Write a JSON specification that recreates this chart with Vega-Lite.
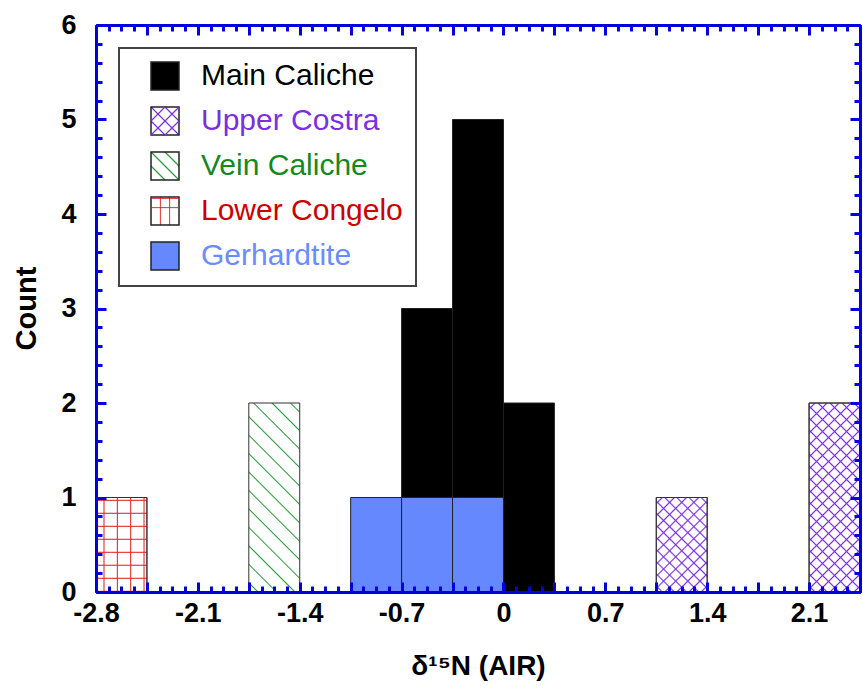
{
  "$schema": "https://vega.github.io/schema/vega-lite/v6.json",
  "width": 764,
  "height": 567,
  "autosize": "none",
  "padding": {"left": 96, "top": 25, "right": 3, "bottom": 98},
  "background": "#ffffff",
  "config": {
    "view": {"stroke": null},
    "axis": {"labelFont": "Liberation Sans", "titleFont": "Liberation Sans", "grid": false}
  },
  "data": {
    "values": [
      {"series": "Main Caliche", "lo": -0.7, "hi": -0.35, "count": 3},
      {"series": "Main Caliche", "lo": -0.35, "hi": 0, "count": 5},
      {"series": "Main Caliche", "lo": 0, "hi": 0.35, "count": 2},
      {"series": "Upper Costra", "lo": 1.05, "hi": 1.4, "count": 1},
      {"series": "Upper Costra", "lo": 2.1, "hi": 2.45, "count": 2},
      {"series": "Vein Caliche", "lo": -1.75, "hi": -1.4, "count": 2},
      {"series": "Lower Congelo", "lo": -2.8, "hi": -2.45, "count": 1},
      {"series": "Gerhardtite", "lo": -1.05, "hi": -0.7, "count": 1},
      {"series": "Gerhardtite", "lo": -0.7, "hi": -0.35, "count": 1},
      {"series": "Gerhardtite", "lo": -0.35, "hi": 0, "count": 1}
    ]
  },
  "resolve": {"axis": {"x": "independent", "y": "independent"}},
  "layer": [
    {
      "transform": [{"filter": "datum.series === 'Main Caliche'"}],
      "mark": {"type": "bar", "color": "#000000", "stroke": "#222222", "strokeWidth": 1},
      "encoding": {
        "x": {"field": "lo", "type": "quantitative", "scale": {"domain": [-2.8, 2.45], "nice": false, "zero": false},
          "axis": {"orient": "bottom", "values": [-2.8, -2.1, -1.4, -0.7, 0, 0.7, 1.4, 2.1], "ticks": false, "domain": false, "labelFlush": false, "labelOverlap": false,
            "labelExpr": "datum.value < -0.001 ? '-' + format(-datum.value, '.1f') : (datum.value < 0.001 ? '0' : format(datum.value, '.1f'))",
            "labelFontSize": 27, "labelFontWeight": "bold", "labelColor": "#000000", "labelPadding": 8,
            "title": "δ¹⁵N (AIR)", "titleFontSize": 28, "titleFontWeight": "bold", "titleColor": "#000000", "titleY": 82, "titleBaseline": "alphabetic"}},
        "x2": {"field": "hi"},
        "y": {"field": "count", "type": "quantitative", "scale": {"domain": [0, 6], "nice": false},
          "axis": {"orient": "left", "values": [0, 1, 2, 3, 4, 5, 6], "format": "d", "ticks": false, "domain": false,
            "labelFontSize": 27, "labelFontWeight": "bold", "labelColor": "#000000", "labelPadding": 20,
            "title": "Count", "titleFontSize": 29, "titleFontWeight": "bold", "titleColor": "#000000", "titleX": -61, "titleY": 283, "titleBaseline": "alphabetic"}},
        "y2": {"datum": 0}
      }
    },
    {
      "transform": [{"filter": "datum.series === 'Gerhardtite'"}],
      "mark": {"type": "bar", "color": "#6688ff", "stroke": "#222222", "strokeWidth": 1},
      "encoding": {
        "x": {"field": "lo", "type": "quantitative", "scale": {"domain": [-2.8, 2.45], "nice": false, "zero": false}, "axis": null},
        "x2": {"field": "hi"},
        "y": {"field": "count", "type": "quantitative", "scale": {"domain": [0, 6], "nice": false}, "axis": null},
        "y2": {"datum": 0}
      }
    },
    {
      "transform": [{"filter": "datum.series === 'Vein Caliche'"}],
      "mark": {"type": "bar", "stroke": "#333333", "strokeWidth": 1,
        "fill": {"gradient": "linear", "x1": 0, "y1": 1, "x2": 0.3187, "y2": -0.1835, "stops": [
          {"offset": 0, "color": "#ffffff"},
          {"offset": 0.0325, "color": "#ffffff"}, {"offset": 0.0385, "color": "#2a9a3a"}, {"offset": 0.0445, "color": "#ffffff"},
          {"offset": 0.1094, "color": "#ffffff"}, {"offset": 0.1154, "color": "#2a9a3a"}, {"offset": 0.1214, "color": "#ffffff"},
          {"offset": 0.1863, "color": "#ffffff"}, {"offset": 0.1923, "color": "#2a9a3a"}, {"offset": 0.1983, "color": "#ffffff"},
          {"offset": 0.2632, "color": "#ffffff"}, {"offset": 0.2692, "color": "#2a9a3a"}, {"offset": 0.2752, "color": "#ffffff"},
          {"offset": 0.3402, "color": "#ffffff"}, {"offset": 0.3462, "color": "#2a9a3a"}, {"offset": 0.3522, "color": "#ffffff"},
          {"offset": 0.4171, "color": "#ffffff"}, {"offset": 0.4231, "color": "#2a9a3a"}, {"offset": 0.4291, "color": "#ffffff"},
          {"offset": 0.494, "color": "#ffffff"}, {"offset": 0.5, "color": "#2a9a3a"}, {"offset": 0.506, "color": "#ffffff"},
          {"offset": 0.5709, "color": "#ffffff"}, {"offset": 0.5769, "color": "#2a9a3a"}, {"offset": 0.5829, "color": "#ffffff"},
          {"offset": 0.6478, "color": "#ffffff"}, {"offset": 0.6538, "color": "#2a9a3a"}, {"offset": 0.6598, "color": "#ffffff"},
          {"offset": 0.7248, "color": "#ffffff"}, {"offset": 0.7308, "color": "#2a9a3a"}, {"offset": 0.7368, "color": "#ffffff"},
          {"offset": 0.8017, "color": "#ffffff"}, {"offset": 0.8077, "color": "#2a9a3a"}, {"offset": 0.8137, "color": "#ffffff"},
          {"offset": 0.8786, "color": "#ffffff"}, {"offset": 0.8846, "color": "#2a9a3a"}, {"offset": 0.8906, "color": "#ffffff"},
          {"offset": 0.9555, "color": "#ffffff"}, {"offset": 0.9615, "color": "#2a9a3a"}, {"offset": 0.9675, "color": "#ffffff"},
          {"offset": 1, "color": "#ffffff"}]}},
      "encoding": {
        "x": {"field": "lo", "type": "quantitative", "scale": {"domain": [-2.8, 2.45], "nice": false, "zero": false},
          "axis": {"orient": "bottom", "values": [-2.8, -2.45, -2.1, -1.75, -1.4, -1.05, -0.7, -0.35, 0, 0.35, 0.7, 1.05, 1.4, 1.75, 2.1, 2.45],
            "labels": false, "title": null, "tickSize": -10, "tickWidth": 3, "tickColor": "#0000dd", "domain": true, "domainColor": "#0000dd", "domainWidth": 3, "zindex": 2}},
        "x2": {"field": "hi"},
        "y": {"field": "count", "type": "quantitative", "scale": {"domain": [0, 6], "nice": false},
          "axis": {"orient": "left", "values": [0, 1, 2, 3, 4, 5, 6], "labels": false, "title": null, "tickSize": -10, "tickWidth": 3, "tickColor": "#0000dd", "domain": true, "domainColor": "#0000dd", "domainWidth": 3, "zindex": 2}},
        "y2": {"datum": 0}
      }
    },
    {
      "transform": [{"filter": "datum.series === 'Lower Congelo'"}],
      "mark": {"type": "bar", "stroke": "#333333", "strokeWidth": 1,
        "fill": {"gradient": "linear", "x1": 0, "y1": 0, "x2": 1, "y2": 0, "stops": [
          {"offset": 0, "color": "#ffffff"},
          {"offset": 0.137, "color": "#ffffff"}, {"offset": 0.157, "color": "#e02020"}, {"offset": 0.177, "color": "#ffffff"},
          {"offset": 0.399, "color": "#ffffff"}, {"offset": 0.419, "color": "#e02020"}, {"offset": 0.439, "color": "#ffffff"},
          {"offset": 0.661, "color": "#ffffff"}, {"offset": 0.681, "color": "#e02020"}, {"offset": 0.701, "color": "#ffffff"},
          {"offset": 0.923, "color": "#ffffff"}, {"offset": 0.943, "color": "#e02020"}, {"offset": 0.963, "color": "#ffffff"},
          {"offset": 1, "color": "#ffffff"}]}},
      "encoding": {
        "x": {"field": "lo", "type": "quantitative", "scale": {"domain": [-2.8, 2.45], "nice": false, "zero": false},
          "axis": {"orient": "bottom", "values": [-2.8, -2.7125, -2.625, -2.5375, -2.45, -2.3625, -2.275, -2.1875, -2.1, -2.0125, -1.925, -1.8375, -1.75, -1.6625, -1.575, -1.4875, -1.4, -1.3125, -1.225, -1.1375, -1.05, -0.9625, -0.875, -0.7875, -0.7, -0.6125, -0.525, -0.4375, -0.35, -0.2625, -0.175, -0.0875, 0, 0.0875, 0.175, 0.2625, 0.35, 0.4375, 0.525, 0.6125, 0.7, 0.7875, 0.875, 0.9625, 1.05, 1.1375, 1.225, 1.3125, 1.4, 1.4875, 1.575, 1.6625, 1.75, 1.8375, 1.925, 2.0125, 2.1, 2.1875, 2.275, 2.3625, 2.45],
            "labels": false, "title": null, "tickSize": -6, "tickWidth": 3, "tickColor": "#0000dd", "domain": false, "zindex": 2}},
        "x2": {"field": "hi"},
        "y": {"field": "count", "type": "quantitative", "scale": {"domain": [0, 6], "nice": false},
          "axis": {"orient": "left", "values": [0, 0.2, 0.4, 0.6, 0.8, 1, 1.2, 1.4, 1.6, 1.8, 2, 2.2, 2.4, 2.6, 2.8, 3, 3.2, 3.4, 3.6, 3.8, 4, 4.2, 4.4, 4.6, 4.8, 5, 5.2, 5.4, 5.6, 5.8, 6],
            "labels": false, "title": null, "tickSize": -6, "tickWidth": 3, "tickColor": "#0000dd", "domain": false, "zindex": 2}},
        "y2": {"datum": 0}
      }
    },
    {
      "transform": [{"filter": "datum.series === 'Lower Congelo'"}],
      "mark": {"type": "bar", "stroke": "#333333", "strokeWidth": 1,
        "fill": {"gradient": "linear", "x1": 0, "y1": 0, "x2": 0, "y2": 1, "stops": [
          {"offset": 0, "color": "rgba(224,32,32,0)"},
          {"offset": 0.019, "color": "rgba(224,32,32,0)"}, {"offset": 0.03, "color": "#e02020"}, {"offset": 0.041, "color": "rgba(224,32,32,0)"},
          {"offset": 0.156, "color": "rgba(224,32,32,0)"}, {"offset": 0.167, "color": "#e02020"}, {"offset": 0.178, "color": "rgba(224,32,32,0)"},
          {"offset": 0.294, "color": "rgba(224,32,32,0)"}, {"offset": 0.305, "color": "#e02020"}, {"offset": 0.316, "color": "rgba(224,32,32,0)"},
          {"offset": 0.431, "color": "rgba(224,32,32,0)"}, {"offset": 0.442, "color": "#e02020"}, {"offset": 0.453, "color": "rgba(224,32,32,0)"},
          {"offset": 0.569, "color": "rgba(224,32,32,0)"}, {"offset": 0.58, "color": "#e02020"}, {"offset": 0.591, "color": "rgba(224,32,32,0)"},
          {"offset": 0.706, "color": "rgba(224,32,32,0)"}, {"offset": 0.717, "color": "#e02020"}, {"offset": 0.728, "color": "rgba(224,32,32,0)"},
          {"offset": 0.844, "color": "rgba(224,32,32,0)"}, {"offset": 0.855, "color": "#e02020"}, {"offset": 0.866, "color": "rgba(224,32,32,0)"},
          {"offset": 0.982, "color": "rgba(224,32,32,0)"}, {"offset": 0.993, "color": "#e02020"}, {"offset": 1, "color": "rgba(224,32,32,0)"}]}},
      "encoding": {
        "x": {"field": "lo", "type": "quantitative", "scale": {"domain": [-2.8, 2.45], "nice": false, "zero": false},
          "axis": {"orient": "top", "values": [-2.8, -2.45, -2.1, -1.75, -1.4, -1.05, -0.7, -0.35, 0, 0.35, 0.7, 1.05, 1.4, 1.75, 2.1, 2.45],
            "labels": false, "title": null, "tickSize": -10, "tickWidth": 3, "tickColor": "#0000dd", "domain": true, "domainColor": "#0000dd", "domainWidth": 3, "zindex": 2}},
        "x2": {"field": "hi"},
        "y": {"field": "count", "type": "quantitative", "scale": {"domain": [0, 6], "nice": false},
          "axis": {"orient": "right", "values": [0, 1, 2, 3, 4, 5, 6], "labels": false, "title": null, "tickSize": -10, "tickWidth": 3, "tickColor": "#0000dd", "domain": true, "domainColor": "#0000dd", "domainWidth": 3, "zindex": 2}},
        "y2": {"datum": 0}
      }
    },
    {
      "transform": [{"filter": "datum.series === 'Upper Costra' && datum.count === 1"}],
      "mark": {"type": "bar", "stroke": "#333333", "strokeWidth": 1,
        "fill": {"gradient": "linear", "x1": 0, "y1": 1, "x2": 0.6423, "y2": -0.1926, "stops": [
          {"offset": 0, "color": "#ffffff"},
          {"offset": 0.0307, "color": "#ffffff"}, {"offset": 0.0417, "color": "#7a30e0"}, {"offset": 0.0527, "color": "#ffffff"},
          {"offset": 0.114, "color": "#ffffff"}, {"offset": 0.125, "color": "#7a30e0"}, {"offset": 0.136, "color": "#ffffff"},
          {"offset": 0.1973, "color": "#ffffff"}, {"offset": 0.2083, "color": "#7a30e0"}, {"offset": 0.2193, "color": "#ffffff"},
          {"offset": 0.2807, "color": "#ffffff"}, {"offset": 0.2917, "color": "#7a30e0"}, {"offset": 0.3027, "color": "#ffffff"},
          {"offset": 0.364, "color": "#ffffff"}, {"offset": 0.375, "color": "#7a30e0"}, {"offset": 0.386, "color": "#ffffff"},
          {"offset": 0.4473, "color": "#ffffff"}, {"offset": 0.4583, "color": "#7a30e0"}, {"offset": 0.4693, "color": "#ffffff"},
          {"offset": 0.5307, "color": "#ffffff"}, {"offset": 0.5417, "color": "#7a30e0"}, {"offset": 0.5527, "color": "#ffffff"},
          {"offset": 0.614, "color": "#ffffff"}, {"offset": 0.625, "color": "#7a30e0"}, {"offset": 0.636, "color": "#ffffff"},
          {"offset": 0.6973, "color": "#ffffff"}, {"offset": 0.7083, "color": "#7a30e0"}, {"offset": 0.7193, "color": "#ffffff"},
          {"offset": 0.7807, "color": "#ffffff"}, {"offset": 0.7917, "color": "#7a30e0"}, {"offset": 0.8027, "color": "#ffffff"},
          {"offset": 0.864, "color": "#ffffff"}, {"offset": 0.875, "color": "#7a30e0"}, {"offset": 0.886, "color": "#ffffff"},
          {"offset": 0.9473, "color": "#ffffff"}, {"offset": 0.9583, "color": "#7a30e0"}, {"offset": 0.9693, "color": "#ffffff"},
          {"offset": 1, "color": "#ffffff"}]}},
      "encoding": {
        "x": {"field": "lo", "type": "quantitative", "scale": {"domain": [-2.8, 2.45], "nice": false, "zero": false},
          "axis": {"orient": "top", "values": [-2.8, -2.7125, -2.625, -2.5375, -2.45, -2.3625, -2.275, -2.1875, -2.1, -2.0125, -1.925, -1.8375, -1.75, -1.6625, -1.575, -1.4875, -1.4, -1.3125, -1.225, -1.1375, -1.05, -0.9625, -0.875, -0.7875, -0.7, -0.6125, -0.525, -0.4375, -0.35, -0.2625, -0.175, -0.0875, 0, 0.0875, 0.175, 0.2625, 0.35, 0.4375, 0.525, 0.6125, 0.7, 0.7875, 0.875, 0.9625, 1.05, 1.1375, 1.225, 1.3125, 1.4, 1.4875, 1.575, 1.6625, 1.75, 1.8375, 1.925, 2.0125, 2.1, 2.1875, 2.275, 2.3625, 2.45],
            "labels": false, "title": null, "tickSize": -6, "tickWidth": 3, "tickColor": "#0000dd", "domain": false, "zindex": 2}},
        "x2": {"field": "hi"},
        "y": {"field": "count", "type": "quantitative", "scale": {"domain": [0, 6], "nice": false},
          "axis": {"orient": "right", "values": [0, 0.2, 0.4, 0.6, 0.8, 1, 1.2, 1.4, 1.6, 1.8, 2, 2.2, 2.4, 2.6, 2.8, 3, 3.2, 3.4, 3.6, 3.8, 4, 4.2, 4.4, 4.6, 4.8, 5, 5.2, 5.4, 5.6, 5.8, 6],
            "labels": false, "title": null, "tickSize": -6, "tickWidth": 3, "tickColor": "#0000dd", "domain": false, "zindex": 2}},
        "y2": {"datum": 0}
      }
    },
    {
      "transform": [{"filter": "datum.series === 'Upper Costra' && datum.count === 1"}],
      "mark": {"type": "bar", "stroke": "#333333", "strokeWidth": 1,
        "fill": {"gradient": "linear", "x1": 0, "y1": 0, "x2": 0.6423, "y2": 1.1926, "stops": [
          {"offset": 0, "color": "rgba(122,48,224,0)"},
          {"offset": 0.0307, "color": "rgba(122,48,224,0)"}, {"offset": 0.0417, "color": "#7a30e0"}, {"offset": 0.0527, "color": "rgba(122,48,224,0)"},
          {"offset": 0.114, "color": "rgba(122,48,224,0)"}, {"offset": 0.125, "color": "#7a30e0"}, {"offset": 0.136, "color": "rgba(122,48,224,0)"},
          {"offset": 0.1973, "color": "rgba(122,48,224,0)"}, {"offset": 0.2083, "color": "#7a30e0"}, {"offset": 0.2193, "color": "rgba(122,48,224,0)"},
          {"offset": 0.2807, "color": "rgba(122,48,224,0)"}, {"offset": 0.2917, "color": "#7a30e0"}, {"offset": 0.3027, "color": "rgba(122,48,224,0)"},
          {"offset": 0.364, "color": "rgba(122,48,224,0)"}, {"offset": 0.375, "color": "#7a30e0"}, {"offset": 0.386, "color": "rgba(122,48,224,0)"},
          {"offset": 0.4473, "color": "rgba(122,48,224,0)"}, {"offset": 0.4583, "color": "#7a30e0"}, {"offset": 0.4693, "color": "rgba(122,48,224,0)"},
          {"offset": 0.5307, "color": "rgba(122,48,224,0)"}, {"offset": 0.5417, "color": "#7a30e0"}, {"offset": 0.5527, "color": "rgba(122,48,224,0)"},
          {"offset": 0.614, "color": "rgba(122,48,224,0)"}, {"offset": 0.625, "color": "#7a30e0"}, {"offset": 0.636, "color": "rgba(122,48,224,0)"},
          {"offset": 0.6973, "color": "rgba(122,48,224,0)"}, {"offset": 0.7083, "color": "#7a30e0"}, {"offset": 0.7193, "color": "rgba(122,48,224,0)"},
          {"offset": 0.7807, "color": "rgba(122,48,224,0)"}, {"offset": 0.7917, "color": "#7a30e0"}, {"offset": 0.8027, "color": "rgba(122,48,224,0)"},
          {"offset": 0.864, "color": "rgba(122,48,224,0)"}, {"offset": 0.875, "color": "#7a30e0"}, {"offset": 0.886, "color": "rgba(122,48,224,0)"},
          {"offset": 0.9473, "color": "rgba(122,48,224,0)"}, {"offset": 0.9583, "color": "#7a30e0"}, {"offset": 0.9693, "color": "rgba(122,48,224,0)"},
          {"offset": 1, "color": "rgba(122,48,224,0)"}]}},
      "encoding": {
        "x": {"field": "lo", "type": "quantitative", "scale": {"domain": [-2.8, 2.45], "nice": false, "zero": false}, "axis": null},
        "x2": {"field": "hi"},
        "y": {"field": "count", "type": "quantitative", "scale": {"domain": [0, 6], "nice": false}, "axis": null},
        "y2": {"datum": 0}
      }
    },
    {
      "transform": [{"filter": "datum.series === 'Upper Costra' && datum.count === 2"}],
      "mark": {"type": "bar", "stroke": "#333333", "strokeWidth": 1,
        "fill": {"gradient": "linear", "x1": 0, "y1": 1, "x2": 0.3187, "y2": -0.1835, "stops": [
          {"offset": 0, "color": "#ffffff"},
          {"offset": 0.0185, "color": "#ffffff"}, {"offset": 0.025, "color": "#7a30e0"}, {"offset": 0.0315, "color": "#ffffff"},
          {"offset": 0.0685, "color": "#ffffff"}, {"offset": 0.075, "color": "#7a30e0"}, {"offset": 0.0815, "color": "#ffffff"},
          {"offset": 0.1185, "color": "#ffffff"}, {"offset": 0.125, "color": "#7a30e0"}, {"offset": 0.1315, "color": "#ffffff"},
          {"offset": 0.1685, "color": "#ffffff"}, {"offset": 0.175, "color": "#7a30e0"}, {"offset": 0.1815, "color": "#ffffff"},
          {"offset": 0.2185, "color": "#ffffff"}, {"offset": 0.225, "color": "#7a30e0"}, {"offset": 0.2315, "color": "#ffffff"},
          {"offset": 0.2685, "color": "#ffffff"}, {"offset": 0.275, "color": "#7a30e0"}, {"offset": 0.2815, "color": "#ffffff"},
          {"offset": 0.3185, "color": "#ffffff"}, {"offset": 0.325, "color": "#7a30e0"}, {"offset": 0.3315, "color": "#ffffff"},
          {"offset": 0.3685, "color": "#ffffff"}, {"offset": 0.375, "color": "#7a30e0"}, {"offset": 0.3815, "color": "#ffffff"},
          {"offset": 0.4185, "color": "#ffffff"}, {"offset": 0.425, "color": "#7a30e0"}, {"offset": 0.4315, "color": "#ffffff"},
          {"offset": 0.4685, "color": "#ffffff"}, {"offset": 0.475, "color": "#7a30e0"}, {"offset": 0.4815, "color": "#ffffff"},
          {"offset": 0.5185, "color": "#ffffff"}, {"offset": 0.525, "color": "#7a30e0"}, {"offset": 0.5315, "color": "#ffffff"},
          {"offset": 0.5685, "color": "#ffffff"}, {"offset": 0.575, "color": "#7a30e0"}, {"offset": 0.5815, "color": "#ffffff"},
          {"offset": 0.6185, "color": "#ffffff"}, {"offset": 0.625, "color": "#7a30e0"}, {"offset": 0.6315, "color": "#ffffff"},
          {"offset": 0.6685, "color": "#ffffff"}, {"offset": 0.675, "color": "#7a30e0"}, {"offset": 0.6815, "color": "#ffffff"},
          {"offset": 0.7185, "color": "#ffffff"}, {"offset": 0.725, "color": "#7a30e0"}, {"offset": 0.7315, "color": "#ffffff"},
          {"offset": 0.7685, "color": "#ffffff"}, {"offset": 0.775, "color": "#7a30e0"}, {"offset": 0.7815, "color": "#ffffff"},
          {"offset": 0.8185, "color": "#ffffff"}, {"offset": 0.825, "color": "#7a30e0"}, {"offset": 0.8315, "color": "#ffffff"},
          {"offset": 0.8685, "color": "#ffffff"}, {"offset": 0.875, "color": "#7a30e0"}, {"offset": 0.8815, "color": "#ffffff"},
          {"offset": 0.9185, "color": "#ffffff"}, {"offset": 0.925, "color": "#7a30e0"}, {"offset": 0.9315, "color": "#ffffff"},
          {"offset": 0.9685, "color": "#ffffff"}, {"offset": 0.975, "color": "#7a30e0"}, {"offset": 0.9815, "color": "#ffffff"},
          {"offset": 1, "color": "#ffffff"}]}},
      "encoding": {
        "x": {"field": "lo", "type": "quantitative", "scale": {"domain": [-2.8, 2.45], "nice": false, "zero": false}, "axis": null},
        "x2": {"field": "hi"},
        "y": {"field": "count", "type": "quantitative", "scale": {"domain": [0, 6], "nice": false}, "axis": null},
        "y2": {"datum": 0}
      }
    },
    {
      "transform": [{"filter": "datum.series === 'Upper Costra' && datum.count === 2"}],
      "mark": {"type": "bar", "stroke": "#333333", "strokeWidth": 1,
        "fill": {"gradient": "linear", "x1": 0, "y1": 0, "x2": 0.3187, "y2": 1.1835, "stops": [
          {"offset": 0, "color": "rgba(122,48,224,0)"},
          {"offset": 0.0185, "color": "rgba(122,48,224,0)"}, {"offset": 0.025, "color": "#7a30e0"}, {"offset": 0.0315, "color": "rgba(122,48,224,0)"},
          {"offset": 0.0685, "color": "rgba(122,48,224,0)"}, {"offset": 0.075, "color": "#7a30e0"}, {"offset": 0.0815, "color": "rgba(122,48,224,0)"},
          {"offset": 0.1185, "color": "rgba(122,48,224,0)"}, {"offset": 0.125, "color": "#7a30e0"}, {"offset": 0.1315, "color": "rgba(122,48,224,0)"},
          {"offset": 0.1685, "color": "rgba(122,48,224,0)"}, {"offset": 0.175, "color": "#7a30e0"}, {"offset": 0.1815, "color": "rgba(122,48,224,0)"},
          {"offset": 0.2185, "color": "rgba(122,48,224,0)"}, {"offset": 0.225, "color": "#7a30e0"}, {"offset": 0.2315, "color": "rgba(122,48,224,0)"},
          {"offset": 0.2685, "color": "rgba(122,48,224,0)"}, {"offset": 0.275, "color": "#7a30e0"}, {"offset": 0.2815, "color": "rgba(122,48,224,0)"},
          {"offset": 0.3185, "color": "rgba(122,48,224,0)"}, {"offset": 0.325, "color": "#7a30e0"}, {"offset": 0.3315, "color": "rgba(122,48,224,0)"},
          {"offset": 0.3685, "color": "rgba(122,48,224,0)"}, {"offset": 0.375, "color": "#7a30e0"}, {"offset": 0.3815, "color": "rgba(122,48,224,0)"},
          {"offset": 0.4185, "color": "rgba(122,48,224,0)"}, {"offset": 0.425, "color": "#7a30e0"}, {"offset": 0.4315, "color": "rgba(122,48,224,0)"},
          {"offset": 0.4685, "color": "rgba(122,48,224,0)"}, {"offset": 0.475, "color": "#7a30e0"}, {"offset": 0.4815, "color": "rgba(122,48,224,0)"},
          {"offset": 0.5185, "color": "rgba(122,48,224,0)"}, {"offset": 0.525, "color": "#7a30e0"}, {"offset": 0.5315, "color": "rgba(122,48,224,0)"},
          {"offset": 0.5685, "color": "rgba(122,48,224,0)"}, {"offset": 0.575, "color": "#7a30e0"}, {"offset": 0.5815, "color": "rgba(122,48,224,0)"},
          {"offset": 0.6185, "color": "rgba(122,48,224,0)"}, {"offset": 0.625, "color": "#7a30e0"}, {"offset": 0.6315, "color": "rgba(122,48,224,0)"},
          {"offset": 0.6685, "color": "rgba(122,48,224,0)"}, {"offset": 0.675, "color": "#7a30e0"}, {"offset": 0.6815, "color": "rgba(122,48,224,0)"},
          {"offset": 0.7185, "color": "rgba(122,48,224,0)"}, {"offset": 0.725, "color": "#7a30e0"}, {"offset": 0.7315, "color": "rgba(122,48,224,0)"},
          {"offset": 0.7685, "color": "rgba(122,48,224,0)"}, {"offset": 0.775, "color": "#7a30e0"}, {"offset": 0.7815, "color": "rgba(122,48,224,0)"},
          {"offset": 0.8185, "color": "rgba(122,48,224,0)"}, {"offset": 0.825, "color": "#7a30e0"}, {"offset": 0.8315, "color": "rgba(122,48,224,0)"},
          {"offset": 0.8685, "color": "rgba(122,48,224,0)"}, {"offset": 0.875, "color": "#7a30e0"}, {"offset": 0.8815, "color": "rgba(122,48,224,0)"},
          {"offset": 0.9185, "color": "rgba(122,48,224,0)"}, {"offset": 0.925, "color": "#7a30e0"}, {"offset": 0.9315, "color": "rgba(122,48,224,0)"},
          {"offset": 0.9685, "color": "rgba(122,48,224,0)"}, {"offset": 0.975, "color": "#7a30e0"}, {"offset": 0.9815, "color": "rgba(122,48,224,0)"},
          {"offset": 1, "color": "rgba(122,48,224,0)"}]}},
      "encoding": {
        "x": {"field": "lo", "type": "quantitative", "scale": {"domain": [-2.8, 2.45], "nice": false, "zero": false}, "axis": null},
        "x2": {"field": "hi"},
        "y": {"field": "count", "type": "quantitative", "scale": {"domain": [0, 6], "nice": false}, "axis": null},
        "y2": {"datum": 0}
      }
    },
    {
      "transform": [{"filter": "false"}],
      "mark": {"type": "rule"},
      "encoding": {
        "x": {"field": "lo", "type": "quantitative", "scale": {"domain": [-2.8, 2.45], "nice": false, "zero": false}, "axis": null},
        "y": {"field": "count", "type": "quantitative", "scale": {"domain": [0, 6], "nice": false}, "axis": null},
        "color": {"field": "series", "type": "nominal",
          "scale": {"domain": ["Main Caliche", "Upper Costra", "Vein Caliche", "Lower Congelo", "Gerhardtite"], "range": ["#222222", "#222222", "#222222", "#222222", "#222222"]},
          "legend": {"title": null, "orient": "top-left", "offset": 23, "symbolType": "square", "symbolSize": 784, "symbolStrokeWidth": 1.5,
            "labelFont": "Liberation Sans", "labelFontSize": 30, "labelOffset": 21, "symbolOffset": 18, "rowPadding": 11, "padding": 13,
            "strokeColor": "#444444", "labelLimit": 400,
            "encode": {
              "legend": {"update": {"strokeWidth": {"value": 2}}},
              "labels": {"update": {"fill": {"signal": "datum.value === 'Main Caliche' ? '#000000' : datum.value === 'Upper Costra' ? '#7b2fe0' : datum.value === 'Vein Caliche' ? '#16891e' : datum.value === 'Lower Congelo' ? '#cc0000' : '#6a8cff'"}}},
              "symbols": {"update": {"strokeWidth": {"value": 1.5}, "fill": [
                {"test": "datum.value === 'Upper Costra'", "value": {"gradient": "linear", "x1": 0, "y1": 1, "x2": 1, "y2": 0, "stops": [{"offset": 0, "color": "rgba(122,48,224,0)"}, {"offset": 0.22, "color": "rgba(122,48,224,0)"}, {"offset": 0.25, "color": "#7a30e0"}, {"offset": 0.28, "color": "rgba(122,48,224,0)"}, {"offset": 0.47, "color": "rgba(122,48,224,0)"}, {"offset": 0.5, "color": "#7a30e0"}, {"offset": 0.53, "color": "rgba(122,48,224,0)"}, {"offset": 0.72, "color": "rgba(122,48,224,0)"}, {"offset": 0.75, "color": "#7a30e0"}, {"offset": 0.78, "color": "rgba(122,48,224,0)"}, {"offset": 1, "color": "rgba(122,48,224,0)"}]}},
                {"test": "datum.value === 'Vein Caliche'", "value": {"gradient": "linear", "x1": 0, "y1": 1, "x2": 1, "y2": 0, "stops": [{"offset": 0, "color": "rgba(42,154,58,0)"}, {"offset": 0.22, "color": "rgba(42,154,58,0)"}, {"offset": 0.25, "color": "#2a9a3a"}, {"offset": 0.28, "color": "rgba(42,154,58,0)"}, {"offset": 0.47, "color": "rgba(42,154,58,0)"}, {"offset": 0.5, "color": "#2a9a3a"}, {"offset": 0.53, "color": "rgba(42,154,58,0)"}, {"offset": 0.72, "color": "rgba(42,154,58,0)"}, {"offset": 0.75, "color": "#2a9a3a"}, {"offset": 0.78, "color": "rgba(42,154,58,0)"}, {"offset": 1, "color": "rgba(42,154,58,0)"}]}},
                {"test": "datum.value === 'Lower Congelo'", "value": {"gradient": "linear", "x1": 0, "y1": 0, "x2": 1, "y2": 0, "stops": [{"offset": 0, "color": "rgba(224,32,32,0)"}, {"offset": 0.3, "color": "rgba(224,32,32,0)"}, {"offset": 0.333, "color": "#e02020"}, {"offset": 0.366, "color": "rgba(224,32,32,0)"}, {"offset": 0.634, "color": "rgba(224,32,32,0)"}, {"offset": 0.667, "color": "#e02020"}, {"offset": 0.7, "color": "rgba(224,32,32,0)"}, {"offset": 1, "color": "rgba(224,32,32,0)"}]}},
                {"test": "datum.value === 'Gerhardtite'", "value": "#6688ff"},
                {"value": "#000000"}
              ]}}
            }}}
      }
    },
    {
      "transform": [{"filter": "false"}],
      "mark": {"type": "rule"},
      "encoding": {
        "x": {"field": "lo", "type": "quantitative", "scale": {"domain": [-2.8, 2.45], "nice": false, "zero": false}, "axis": null},
        "y": {"field": "count", "type": "quantitative", "scale": {"domain": [0, 6], "nice": false}, "axis": null},
        "opacity": {"field": "series", "type": "nominal",
          "scale": {"type": "point", "domain": ["Main Caliche", "Upper Costra", "Vein Caliche", "Lower Congelo", "Gerhardtite"], "range": [1, 1]},
          "legend": {"title": null, "orient": "none", "legendX": 23, "legendY": 27, "symbolType": "square", "symbolSize": 784, "symbolStrokeWidth": 0, "symbolStrokeColor": "rgba(0,0,0,0)",
            "labelFont": "Liberation Sans", "labelFontSize": 30, "labelOffset": 21, "symbolOffset": 18, "rowPadding": 11, "padding": 13,
            "labelColor": "rgba(0,0,0,0)", "labelLimit": 400,
            "encode": {
              "symbols": {"update": {"fill": [
                {"test": "datum.value === 'Upper Costra'", "value": {"gradient": "linear", "x1": 0, "y1": 0, "x2": 1, "y2": 1, "stops": [{"offset": 0, "color": "rgba(122,48,224,0)"}, {"offset": 0.22, "color": "rgba(122,48,224,0)"}, {"offset": 0.25, "color": "#7a30e0"}, {"offset": 0.28, "color": "rgba(122,48,224,0)"}, {"offset": 0.47, "color": "rgba(122,48,224,0)"}, {"offset": 0.5, "color": "#7a30e0"}, {"offset": 0.53, "color": "rgba(122,48,224,0)"}, {"offset": 0.72, "color": "rgba(122,48,224,0)"}, {"offset": 0.75, "color": "#7a30e0"}, {"offset": 0.78, "color": "rgba(122,48,224,0)"}, {"offset": 1, "color": "rgba(122,48,224,0)"}]}},
                {"test": "datum.value === 'Lower Congelo'", "value": {"gradient": "linear", "x1": 0, "y1": 0, "x2": 0, "y2": 1, "stops": [{"offset": 0, "color": "rgba(224,32,32,0)"}, {"offset": 0.3, "color": "rgba(224,32,32,0)"}, {"offset": 0.333, "color": "#e02020"}, {"offset": 0.366, "color": "rgba(224,32,32,0)"}, {"offset": 0.634, "color": "rgba(224,32,32,0)"}, {"offset": 0.667, "color": "#e02020"}, {"offset": 0.7, "color": "rgba(224,32,32,0)"}, {"offset": 1, "color": "rgba(224,32,32,0)"}]}},
                {"value": "rgba(0,0,0,0)"}
              ]}}
            }}}
      }
    }
  ]
}
